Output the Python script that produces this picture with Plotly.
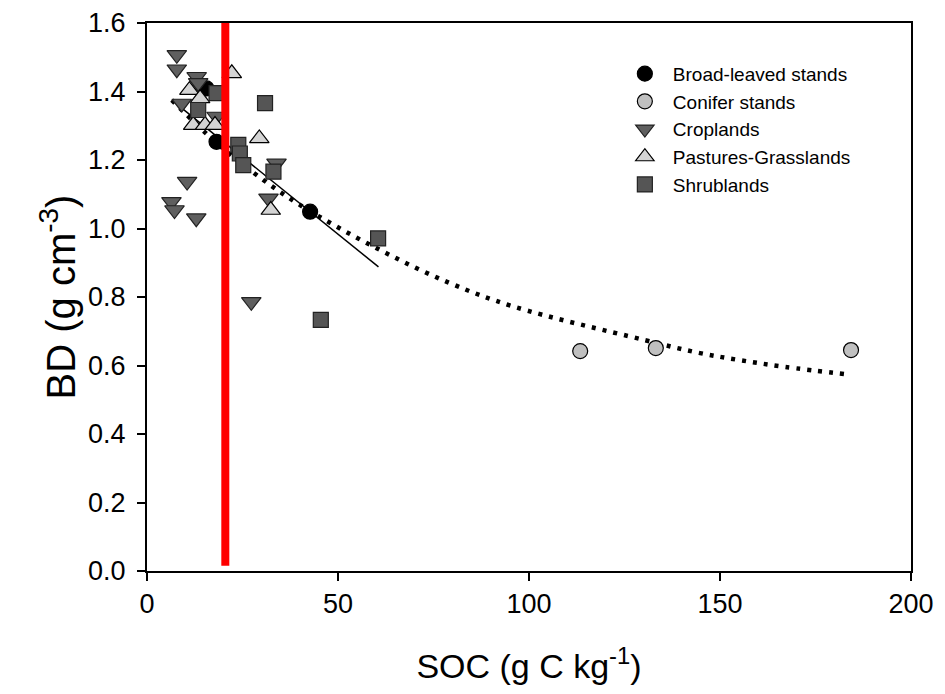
import plotly.graph_objects as go

# ---- data ----
broad_x = [15.6, 18.2, 42.7]
broad_y = [1.409, 1.253, 1.049]

conifer_x = [113.4, 133.2, 184.3]
conifer_y = [0.642, 0.651, 0.645]

crop_x = [7.8, 7.8, 13.0, 13.4, 9.1, 18.2, 10.5, 6.4, 7.2, 12.9, 33.9, 31.8, 27.3]
crop_y = [1.507, 1.465, 1.443, 1.425, 1.365, 1.327, 1.137, 1.078, 1.054, 1.03, 1.19, 1.088, 0.786]

past_x = [22.2, 11.1, 13.9, 12.1, 15.2, 17.8, 29.4, 32.4]
past_y = [1.453, 1.404, 1.38, 1.302, 1.302, 1.302, 1.263, 1.054]

shrub_x = [18.2, 30.9, 13.4, 23.9, 24.3, 25.2, 33.1, 60.5, 45.5]
shrub_y = [1.395, 1.366, 1.346, 1.244, 1.219, 1.185, 1.166, 0.971, 0.733]

# linear fit (solid) end points
lin_x = [6.5, 60.6]
lin_y = [1.375, 0.888]

# dotted curve points
curve_x = [6.5, 18.0, 28.7, 40.0, 60.0, 79.0, 96.0, 130.0, 144.0, 155.0, 167.0, 183.5]
curve_y = [1.375, 1.252, 1.156, 1.069, 0.943, 0.842, 0.772, 0.675, 0.638, 0.616, 0.596, 0.574]

THRESHOLD = 20.5  # red vertical line (SOC)

x_ticks = [0, 50, 100, 150, 200]
y_ticks = [0.0, 0.2, 0.4, 0.6, 0.8, 1.0, 1.2, 1.4, 1.6]

fig = go.Figure()

fig.add_trace(go.Scatter(x=curve_x, y=curve_y, mode="lines", showlegend=False,
                         line=dict(color="black", width=4.5, dash="4px,7px", shape="spline"),
                         hoverinfo="skip"))
fig.add_trace(go.Scatter(x=lin_x, y=lin_y, mode="lines", showlegend=False,
                         line=dict(color="black", width=1.5), hoverinfo="skip"))

msize = 15
fig.add_trace(go.Scatter(x=broad_x, y=broad_y, mode="markers", name="Broad-leaved stands",
                         marker=dict(symbol="circle", size=msize, color="black",
                                     line=dict(color="black", width=1.2))))
fig.add_trace(go.Scatter(x=conifer_x, y=conifer_y, mode="markers", name="Conifer stands",
                         marker=dict(symbol="circle", size=msize, color="#c0c0c0",
                                     line=dict(color="black", width=1.2))))
fig.add_trace(go.Scatter(x=crop_x, y=crop_y, mode="markers", name="Croplands",
                         marker=dict(symbol="triangle-down", size=msize + 2, color="#5f5f5f",
                                     line=dict(color="#222222", width=1.2))))
fig.add_trace(go.Scatter(x=past_x, y=past_y, mode="markers", name="Pastures-Grasslands",
                         marker=dict(symbol="triangle-up", size=msize + 2, color="#d4d4d4",
                                     line=dict(color="black", width=1.2))))
fig.add_trace(go.Scatter(x=shrub_x, y=shrub_y, mode="markers", name="Shrublands",
                         marker=dict(symbol="square", size=msize, color="#555555",
                                     line=dict(color="#222222", width=1.2))))

fig.add_shape(type="line", xref="x", yref="y", x0=THRESHOLD, x1=THRESHOLD,
              y0=0.015, y1=1.61, line=dict(color="#ff0000", width=8))

font_family = "Arial, Liberation Sans, sans-serif"

fig.update_layout(
    width=945, height=694,
    margin=dict(l=139, r=42, t=15, b=131, autoexpand=False),
    plot_bgcolor="white", paper_bgcolor="white",
    font=dict(family=font_family, color="black"),
    legend=dict(x=0.615, y=0.942, xanchor="left", yanchor="top",
                font=dict(size=19, family=font_family),
                bgcolor="rgba(0,0,0,0)", tracegroupgap=0, itemwidth=46),
    xaxis=dict(range=[0, 200], tickvals=x_ticks, ticktext=[str(v) for v in x_ticks],
               ticks="outside", ticklen=8, tickwidth=1.5, tickcolor="black",
               showline=True, linecolor="black", linewidth=2, mirror=True,
               showgrid=False, zeroline=False, automargin=False,
               tickfont=dict(size=27),
               title=dict(text="SOC (g C kg<sup>-1</sup>)", font=dict(size=34), standoff=36)),
    yaxis=dict(range=[0, 1.6], tickvals=y_ticks, ticktext=[f"{v:.1f}" for v in y_ticks],
               ticks="outside", ticklen=8, tickwidth=1.5, tickcolor="black",
               showline=True, linecolor="black", linewidth=2, mirror=True,
               showgrid=False, zeroline=False, automargin=False,
               tickfont=dict(size=27), ticklabelstandoff=6,
               title=dict(text="BD (g cm<sup>-3</sup>)", font=dict(size=40), standoff=0)),
)

fig.write_html("out.html")
